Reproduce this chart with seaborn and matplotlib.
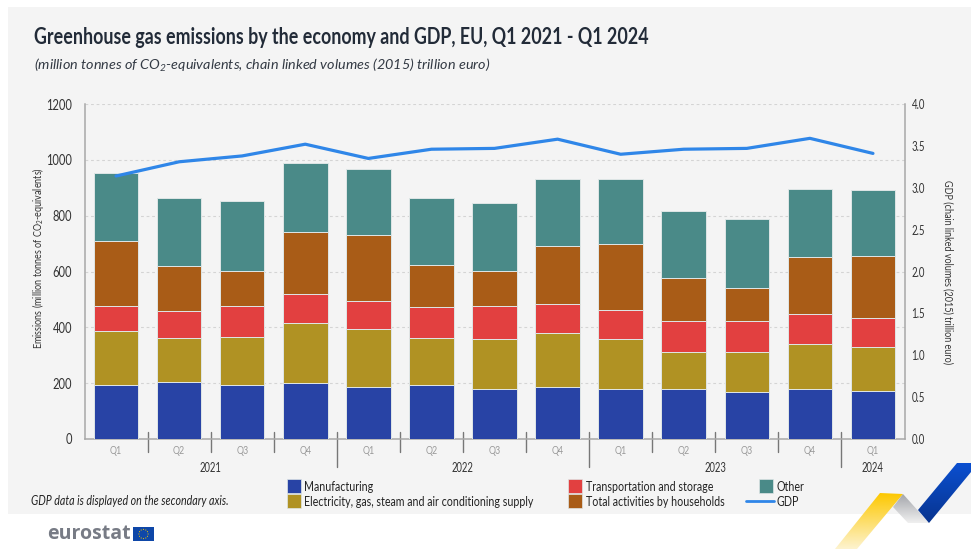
import numpy as np
import pandas as pd
import matplotlib
matplotlib.use("Agg")
import matplotlib.pyplot as plt
import seaborn as sns
from fontTools.ttLib import TTFont
from matplotlib import font_manager as fm
from matplotlib.legend_handler import HandlerPatch
from matplotlib.lines import Line2D
from matplotlib.patches import Patch, Polygon, Rectangle, Circle
from matplotlib.colors import LinearSegmentedColormap

quarters = ["Q1", "Q2", "Q3", "Q4", "Q1", "Q2", "Q3", "Q4", "Q1", "Q2", "Q3", "Q4", "Q1"]
manufacturing = [195, 205, 192, 202, 188, 192, 178, 185, 178, 180, 170, 180, 172]
electricity = [193, 158, 173, 213, 205, 170, 182, 193, 182, 132, 140, 160, 158]
transport = [87, 97, 113, 105, 100, 111, 116, 107, 102, 111, 113, 107, 102]
households = [235, 160, 125, 220, 237, 149, 126, 205, 235, 152, 119, 205, 225]
other = [242, 245, 250, 250, 238, 241, 243, 243, 235, 240, 245, 245, 236]
gdp = [3.14, 3.31, 3.38, 3.52, 3.35, 3.46, 3.47, 3.58, 3.40, 3.46, 3.47, 3.59, 3.41]

series_names = ["Manufacturing", "Electricity, gas, steam and air conditioning supply",
                "Transportation and storage", "Total activities by households", "Other"]
series_values = [manufacturing, electricity, transport, households, other]
series_colors = ["#2843a5", "#b09223", "#e24040", "#a95c17", "#4a8a88"]
gdp_color = "#2f86e8"
years = [("2021", 1.5), ("2022", 5.5), ("2023", 9.5), ("2024", 12)]

W, H = 971, 549


def build_condensed(base_family, new_family, scale):
    """Write horizontally condensed copies of a font family and register them."""
    for weight, style in [("normal", "normal"), ("bold", "normal"), ("normal", "italic")]:
        path = fm.findfont(fm.FontProperties(family=base_family, weight=weight, style=style))
        font = TTFont(path)
        glyf = font["glyf"]
        for name in glyf.keys():
            glyph = glyf[name]
            if glyph.isComposite():
                for comp in glyph.components:
                    comp.x = int(round(comp.x * scale))
            elif glyph.numberOfContours > 0:
                glyph.coordinates.scale((scale, 1))
                glyph.program.fromBytecode(b"")
        hmtx = font["hmtx"]
        for name, (adv, lsb) in list(hmtx.metrics.items()):
            hmtx.metrics[name] = (int(round(adv * scale)), int(round(lsb * scale)))
        if "kern" in font:
            for sub in font["kern"].kernTables:
                sub.kernTable = {k: int(round(v * scale)) for k, v in sub.kernTable.items()}
        for tag in ("fpgm", "prep", "cvt ", "hdmx", "LTSH", "VDMX"):
            if tag in font:
                del font[tag]
        for rec in font["name"].names:
            if rec.nameID in (1, 4, 16):
                rec.string = new_family
        out = f"{new_family.replace(' ', '')}-{weight}-{style}.ttf"
        font.save(out)
        fm.fontManager.addfont(out)
    return new_family


sns.set_theme(style="white")
try:
    text_font = build_condensed("Lato", "Lato Condensed", 0.76)
except Exception:
    text_font = "Lato"
plt.rcParams["font.family"] = [text_font, "DejaVu Sans"]
plt.rcParams["mathtext.default"] = "regular"

fig = plt.figure(figsize=(W / 100, H / 100), dpi=100, facecolor="white")

# page layer addressed in pixels: panel, titles, logo and ribbons
page = fig.add_axes([0, 0, 1, 1], zorder=0)
page.set_xlim(0, W)
page.set_ylim(H, 0)
page.axis("off")
page.add_patch(Rectangle((8, 7), W - 8, 507, fc="#f4f4f4", ec="none"))


def ribbon(points, c0, c1):
    cmap = LinearSegmentedColormap.from_list("r", [c0, c1])
    xs, ys = zip(*points)
    grad = np.linspace(0, 1, 128).reshape(-1, 1)
    im = page.imshow(grad, cmap=cmap, extent=(min(xs), max(xs), max(ys), min(ys)),
                     aspect="auto", interpolation="bilinear", zorder=2)
    clip = Polygon(points, closed=True, transform=page.transData, fc="none", ec="none")
    page.add_patch(clip)
    im.set_clip_path(clip)


ribbon([(880, 493), (903, 494), (857, 549), (835, 549)], "#fdc800", "#fdf3cf")
ribbon([(903, 494), (929, 523), (908, 523), (893, 507)], "#a4a6ab", "#f0f0f0")
ribbon([(957, 463), (971, 463), (971, 472), (929, 523), (918, 510)], "#0b4fd0", "#08348f")
page.set_xlim(0, W)
page.set_ylim(H, 0)

page.text(34, 37.5, "Greenhouse gas emissions by the economy and GDP, EU, Q1 2021 - Q1 2024",
          fontsize=16.9, fontweight="bold", color="#222b38", va="center", ha="left")
page.text(34, 65, "(million tonnes of CO$_{2}$-equivalents, chain linked volumes (2015) trillion euro)",
          fontsize=10.4, style="italic", color="#333a44", va="center", ha="left",
          family=["Lato", "DejaVu Sans"])
page.text(31, 501, "GDP data is displayed on the secondary axis.",
          fontsize=10.1, style="italic", color="#222222", va="center", ha="left")

page.text(47, 534, "eurostat", fontsize=14, fontweight="bold", color="#777b85",
          family=["Open Sans", "DejaVu Sans"], va="center", ha="left")
page.add_patch(Rectangle((133, 527), 21, 14, fc="#0e47a8", ec="none"))
for angle in np.arange(0, 360, 30):
    page.add_patch(Circle((143.5 + 4.6 * np.cos(np.radians(angle)),
                           534 + 4.6 * np.sin(np.radians(angle))), 0.55, fc="#f5c900", ec="none"))

# plot area
left, right, top, bottom = 84.5, 904.5, 104, 439
ax = fig.add_axes([left / W, 1 - bottom / H, (right - left) / W, (bottom - top) / H],
                  zorder=2, facecolor="none")

positions = np.arange(len(quarters))
base = np.zeros(len(quarters))
for name, values, color in zip(series_names, series_values, series_colors):
    frame = pd.DataFrame({"pos": positions, "value": values})
    sns.barplot(data=frame, x="pos", y="value", order=positions, ax=ax, color=color, saturation=1,
                width=0.705, bottom=base, edgecolor="#dfe6e6", linewidth=0.7, zorder=3)
    base = base + np.array(values)

ax.set_xlim(-0.5, 12.5)
ax.set_ylim(0, 1200)
ax.set_yticks(np.arange(0, 1201, 200))
ax.set_xticks(positions)
ax.set_xticklabels(quarters)
ax.set_xlabel("")
ax.set_ylabel("Emissions (million tonnes of CO$_{2}$-equivalents)", fontsize=8.6, color="#333333")
ax.yaxis.set_label_coords((46 - left) / (right - left), (bottom - 258) / (bottom - top))
ax.yaxis.grid(True, linestyle=(0, (2.5, 2.5)), color="#d4d4d4", linewidth=0.8, zorder=0)
ax.set_axisbelow(True)
ax.tick_params(axis="y", length=0, labelsize=10.6, labelcolor="#333333", pad=9)
ax.tick_params(axis="x", length=0, labelsize=8.4, labelcolor="#9a9a9a", pad=4)
for side in ("top", "right"):
    ax.spines[side].set_visible(False)
for side in ("left", "bottom"):
    ax.spines[side].set_color("#a8a8a8")
    ax.spines[side].set_linewidth(1.1)

# quarter dividers below the axis; longer ones mark a change of year
divider = ax.get_xaxis_transform()
for pos in np.arange(0.5, 12):
    long_mark = pos in (3.5, 7.5, 11.5)
    ax.plot([pos, pos], [7 / 335, -(28 if long_mark else 13) / 335], transform=divider,
            color="#777777", linewidth=1.0, clip_on=False, zorder=2)
for label, pos in years:
    ax.text(pos, -23.5 / 335, label, transform=divider, ha="center", va="top",
            fontsize=9, color="#333333")

# GDP runs on the secondary axis
ax2 = ax.twinx()
ax2.set_facecolor("none")
sns.lineplot(x=positions, y=gdp, ax=ax2, color=gdp_color, linewidth=2.3, sort=False, zorder=5)
ax2.set_xlim(-0.5, 12.5)
ax2.set_ylim(0, 4)
ax2.set_yticks(np.arange(0, 4.01, 0.5))
ax2.set_yticklabels([f"{v:.1f}" for v in np.arange(0, 4.01, 0.5)])
ax2.tick_params(axis="y", length=0, labelsize=9.2, labelcolor="#333333", pad=5)
ax2.set_ylabel("GDP (chain linked volumes (2015) trillion euro)", fontsize=8.6, color="#333333", rotation=270)
ax2.yaxis.set_label_coords((954 - left) / (right - left), (bottom - 272) / (bottom - top))
ax2.grid(False)
for side in ("top", "left", "bottom"):
    ax2.spines[side].set_visible(False)
ax2.spines["right"].set_color("#a8a8a8")
ax2.spines["right"].set_linewidth(1.1)


def square_swatch(legend, orig_handle, xdescent, ydescent, width, height, fontsize):
    side = 10
    return Rectangle((width - xdescent - side - 0.5, (height - side) / 2 - ydescent), side, side)


handles = [Patch(fc=c, ec="#dfe6e6", lw=0.5) for c in series_colors]
line_handle = Line2D([], [], color=gdp_color, linewidth=2.0)
ordered = handles + [line_handle]
labels = series_names + ["GDP"]
fig.legend(ordered, labels, ncol=3, loc="upper left", bbox_to_anchor=(261 / W, 1 - 468 / H),
           bbox_transform=fig.transFigure, frameon=False, fontsize=10.1, labelcolor="#222222",
           handlelength=2.0, handletextpad=0.2, columnspacing=1.5, labelspacing=0.24,
           handler_map={Patch: HandlerPatch(patch_func=square_swatch)})

fig.savefig("out.png", dpi=100)
